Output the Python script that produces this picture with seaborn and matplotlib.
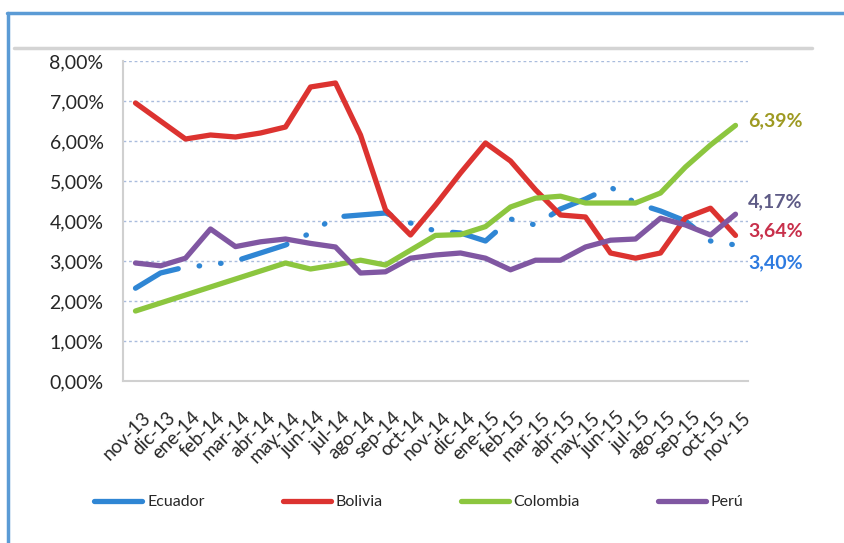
import numpy as np
import pandas as pd
import seaborn as sns
from matplotlib import pyplot as plt
from matplotlib.lines import Line2D
from matplotlib.ticker import FuncFormatter
from matplotlib.transforms import ScaledTranslation

months = ["nov-13", "dic-13", "ene-14", "feb-14", "mar-14", "abr-14", "may-14",
          "jun-14", "jul-14", "ago-14", "sep-14", "oct-14", "nov-14", "dic-14",
          "ene-15", "feb-15", "mar-15", "abr-15", "may-15", "jun-15", "jul-15",
          "ago-15", "sep-15", "oct-15", "nov-15"]

ecuador = [2.32, 2.70, 2.85, 2.90, 3.00, 3.20, 3.40, 3.70, 4.10, 4.15, 4.20, 3.95,
           3.75, 3.70, 3.50, 4.05, 3.90, 4.30, 4.55, 4.85, 4.45, 4.25, 4.00, 3.50, 3.40]
bolivia = [6.95, 6.50, 6.05, 6.15, 6.10, 6.20, 6.35, 7.35, 7.45, 6.15, 4.28, 3.65,
           4.40, 5.20, 5.95, 5.50, 4.78, 4.15, 4.10, 3.20, 3.07, 3.20, 4.08, 4.32, 3.64]
colombia = [1.75, 1.95, 2.15, 2.35, 2.55, 2.75, 2.95, 2.80, 2.90, 3.02, 2.90, 3.27,
            3.64, 3.66, 3.86, 4.35, 4.57, 4.62, 4.45, 4.45, 4.45, 4.70, 5.35, 5.90, 6.39]
peru = [2.95, 2.88, 3.07, 3.80, 3.36, 3.48, 3.55, 3.44, 3.35, 2.70, 2.73, 3.07,
        3.15, 3.20, 3.07, 2.78, 3.02, 3.02, 3.35, 3.52, 3.55, 4.07, 3.90, 3.65, 4.17]

series = {"Ecuador": ecuador, "Bolivia": bolivia, "Colombia": colombia, "Perú": peru}
colors = {"Ecuador": "#2F86D4", "Bolivia": "#DC3330", "Colombia": "#8CC63F", "Perú": "#8057A2"}
end_colors = {"Ecuador": "#2E7BE0", "Bolivia": "#C8304B", "Colombia": "#9E9A22", "Perú": "#5E5B86"}
end_offsets = {"Colombia": 3, "Perú": 9, "Bolivia": 3, "Ecuador": -13}

df = pd.concat([pd.DataFrame({"mes": np.arange(len(months)), "valor": v, "pais": k})
                for k, v in series.items()])

sns.set_style("white")
plt.rcParams["font.family"] = ["Lato", "DejaVu Sans"]

fig = plt.figure(figsize=(8.44, 5.43), dpi=100)
ax = fig.add_axes([123 / 844, 1 - 381 / 543, 625 / 844, 320 / 543])

dashes = {"Ecuador": (9, 4, 0.1, 4, 0.1, 4), "Bolivia": "", "Colombia": "", "Perú": ""}
sns.lineplot(data=df, x="mes", y="valor", hue="pais", style="pais", palette=colors,
             dashes=dashes, linewidth=3.8, legend=False, ax=ax, sort=False)
for line in ax.lines:
    line.set_dash_capstyle("round")
    line.set_solid_capstyle("round")

ax.set_xlim(-0.5, len(months) - 0.5)
ax.set_ylim(0, 8)
ax.set_yticks(np.arange(0, 9, 1))
ax.yaxis.set_major_formatter(FuncFormatter(lambda v, p: f"{v:.2f}%".replace(".", ",")))
ax.set_xticks(np.arange(len(months)))
ax.set_xticklabels(months, rotation=45, ha="right", rotation_mode="anchor")
ax.tick_params(axis="x", length=0, pad=20, labelsize=13.5, colors="#262626")
ax.tick_params(axis="y", length=0, pad=14, labelsize=14, colors="#262626")
shift = ScaledTranslation(6 / 100, 0, fig.dpi_scale_trans)
for lab in ax.get_xticklabels():
    lab.set_transform(lab.get_transform() + shift)
ax.set_xlabel("")
ax.set_ylabel("")

ax.grid(axis="y", linestyle=(0, (2, 2)), color="#A9BCDD", linewidth=1)
ax.set_axisbelow(True)
for s in ["top", "right"]:
    ax.spines[s].set_visible(False)
for s in ["left", "bottom"]:
    ax.spines[s].set_color("#D0D0D0")
    ax.spines[s].set_linewidth(1.5)

for k, v in series.items():
    ax.annotate(f"{v[-1]:.2f}%".replace(".", ","), xy=(len(months) - 1, v[-1]),
                xytext=(9, end_offsets[k]), textcoords="offset points",
                va="center", ha="left", fontsize=14, fontweight="bold",
                color=end_colors[k], annotation_clip=False)

handles = [Line2D([0], [0], color=colors[k], linewidth=3.8, solid_capstyle="round")
           for k in series]
fig.legend(handles, list(series.keys()), loc="center", bbox_to_anchor=(419 / 844, 1 - 502 / 543),
           ncol=4, frameon=False, fontsize=11.5, handlelength=3.0, handletextpad=0.3,
           columnspacing=4.9)

# grey rule at the top and blue frame
fig.add_artist(Line2D([14 / 844, 812 / 844], [1 - 48 / 543] * 2, color="#D4D4D4", linewidth=2.5))
fig.add_artist(Line2D([7 / 844, 1], [1 - 13 / 543] * 2, color="#5B9BD5", linewidth=2.5))
fig.add_artist(Line2D([8 / 844] * 2, [0, 1 - 13 / 543], color="#5B9BD5", linewidth=2.5))

plt.savefig("out.png", dpi=100)
